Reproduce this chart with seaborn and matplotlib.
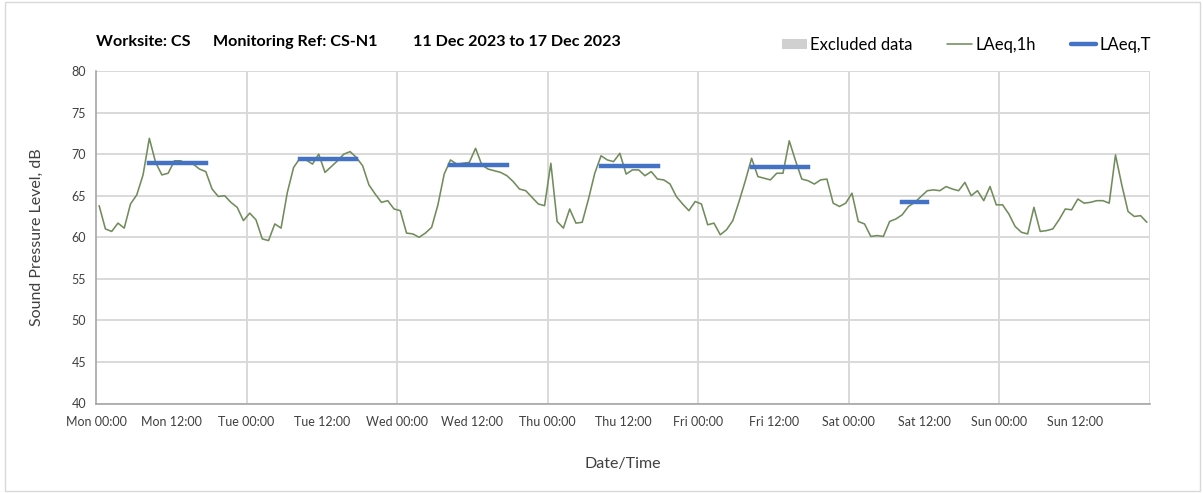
import numpy as np
import pandas as pd
import matplotlib
matplotlib.use("Agg")
import matplotlib.pyplot as plt
import seaborn as sns
from matplotlib.lines import Line2D
from matplotlib.patches import Patch, Rectangle

# ---------------- data ----------------
day_names = ["Mon", "Tue", "Wed", "Thu", "Fri", "Sat", "Sun"]

# hourly LAeq,1h values (dB), one list per day, hours 00..23
laeq_1h_mon = [63.8, 61.0, 60.7, 61.7, 61.1, 64.0, 65.1, 67.5, 71.9, 69.0, 67.5, 67.7,
               69.2, 69.2, 68.8, 68.8, 68.2, 67.9, 65.8, 64.9, 65.0, 64.2, 63.6, 62.0]
laeq_1h_tue = [62.9, 62.1, 59.8, 59.6, 61.6, 61.1, 65.4, 68.4, 69.5, 69.3, 68.8, 70.0,
               67.8, 68.5, 69.2, 70.0, 70.3, 69.6, 68.6, 66.3, 65.2, 64.2, 64.4, 63.4]
laeq_1h_wed = [63.2, 60.5, 60.4, 60.0, 60.5, 61.2, 63.9, 67.6, 69.3, 68.8, 68.9, 69.0,
               70.7, 68.7, 68.2, 68.0, 67.8, 67.4, 66.7, 65.8, 65.6, 64.8, 64.0, 63.8]
laeq_1h_thu = [68.9, 61.9, 61.1, 63.4, 61.7, 61.8, 64.6, 67.7, 69.8, 69.3, 69.1, 70.1,
               67.6, 68.1, 68.1, 67.4, 67.9, 67.0, 66.9, 66.4, 64.9, 64.0, 63.2, 64.3]
laeq_1h_fri = [64.0, 61.5, 61.7, 60.3, 60.9, 62.0, 64.3, 66.8, 69.5, 67.3, 67.1, 66.9,
               67.7, 67.7, 71.6, 69.2, 67.0, 66.8, 66.4, 66.9, 67.0, 64.1, 63.7, 64.1]
laeq_1h_sat = [65.3, 61.9, 61.6, 60.1, 60.2, 60.1, 61.9, 62.2, 62.7, 63.7, 64.2, 64.9,
               65.6, 65.7, 65.6, 66.1, 65.8, 65.6, 66.6, 65.0, 65.6, 64.4, 66.1, 63.9]
laeq_1h_sun = [63.9, 62.8, 61.3, 60.6, 60.4, 63.6, 60.7, 60.8, 61.0, 62.1, 63.4, 63.3,
               64.6, 64.1, 64.2, 64.4, 64.4, 64.1, 69.9, 66.3, 63.1, 62.5, 62.6, 61.8]

# LAeq,T for the working periods
period_days = ["Mon", "Tue", "Wed", "Thu", "Fri", "Sat"]
period_start_hour = [8, 8, 8, 8, 8, 8]
period_end_hour = [18, 18, 18, 18, 18, 13]
laeq_t = [68.9, 69.4, 68.7, 68.6, 68.5, 64.3]

# tick labels (every 12 h)
tick_labels = ["Mon 00:00", "Mon 12:00", "Tue 00:00", "Tue 12:00", "Wed 00:00", "Wed 12:00",
               "Thu 00:00", "Thu 12:00", "Fri 00:00", "Fri 12:00", "Sat 00:00", "Sat 12:00",
               "Sun 00:00", "Sun 12:00", ""]

# ---------------- frames ----------------
all_days = [laeq_1h_mon, laeq_1h_tue, laeq_1h_wed, laeq_1h_thu,
            laeq_1h_fri, laeq_1h_sat, laeq_1h_sun]
rows = []
for d, vals in enumerate(all_days):
    for h, v in enumerate(vals):
        rows.append({"t": d * 24 + h + 0.5, "LAeq": v})
df_1h = pd.DataFrame(rows)

rows_t = []
for name, s, e, v in zip(period_days, period_start_hour, period_end_hour, laeq_t):
    d = day_names.index(name)
    for h in range(s, e):
        rows_t.append({"t": d * 24 + h + 0.5, "LAeqT": v, "day": name})
df_t = pd.DataFrame(rows_t)

# ---------------- style ----------------
sns.set_style("white")
plt.rcParams["font.family"] = ["Lato", "DejaVu Sans"]

W, H = 1203, 493
fig = plt.figure(figsize=(W / 100, H / 100), dpi=100)
ax = fig.add_axes([96 / W, 1 - 403.5 / H, (1150 - 96) / W, (403.5 - 71) / H])

grid_c = "#d9d9d9"
line_c = "#718c5c"
blue_c = "#4472c4"
text_c = "#404040"

sns.lineplot(data=df_1h, x="t", y="LAeq", ax=ax, color=line_c, linewidth=1.15, zorder=3)
sns.lineplot(data=df_t, x="t", y="LAeqT", units="day", estimator=None, ax=ax,
             color=blue_c, linewidth=3.2, solid_capstyle="projecting", zorder=4)

ax.set_xlim(0, 168)
ax.set_ylim(40, 80)
ax.set_yticks(np.arange(40, 81, 5))
ax.set_xticks(np.arange(0, 169, 12))
ax.set_xticklabels(tick_labels)

ax.yaxis.grid(True, color=grid_c, linewidth=1.4)
ax.xaxis.grid(False)
for x in range(24, 169, 24):
    ax.axvline(x, color=grid_c, linewidth=1.4, zorder=1)
ax.set_axisbelow(True)

for s in ["top", "right"]:
    ax.spines[s].set_visible(False)
for s in ["left", "bottom"]:
    ax.spines[s].set_color("#a6a6a6")
    ax.spines[s].set_linewidth(1.2)

ax.tick_params(axis="both", which="major", direction="out", length=4, width=1,
               color="#a6a6a6", labelsize=9, labelcolor=text_c, pad=3)
ax.tick_params(axis="x", pad=5)

ax.set_xlabel("Date/Time", fontsize=11.5, color=text_c, labelpad=21)
ax.set_ylabel("Sound Pressure Level, dB", fontsize=11.5, color=text_c, labelpad=20)

# title pieces
ty = 1 - 42 / H
tfs = 11.6
fig.text(96 / W, ty, "Worksite: CS", fontsize=tfs, fontweight="bold", color="black", va="center")
fig.text(213 / W, ty, "Monitoring Ref: CS-N1", fontsize=tfs, fontweight="bold", color="black", va="center")
fig.text(413 / W, ty, "11 Dec 2023 to 17 Dec 2023", fontsize=tfs, fontweight="bold", color="black", va="center")

# legend
handles = [Patch(facecolor="#d0d0d0", edgecolor="none"),
           Line2D([], [], color=line_c, linewidth=1.15),
           Line2D([], [], color=blue_c, linewidth=3.2)]
labels = ["Excluded data", "LAeq,1h", "LAeq,T"]
fig.legend(handles, labels, loc="center right", bbox_to_anchor=(1166 / W, 1 - 45 / H),
           ncol=3, frameon=False, fontsize=12.0, handlelength=1.5, handleheight=0.6,
           handletextpad=0.2, columnspacing=2.1, labelcolor="black")

# chart border
fig.patches.append(Rectangle((5 / W, 2 / H), (W - 8) / W, (H - 4) / H, transform=fig.transFigure,
                             fill=False, edgecolor="#d9d9d9", linewidth=1))

fig.savefig("out.png", dpi=100)
